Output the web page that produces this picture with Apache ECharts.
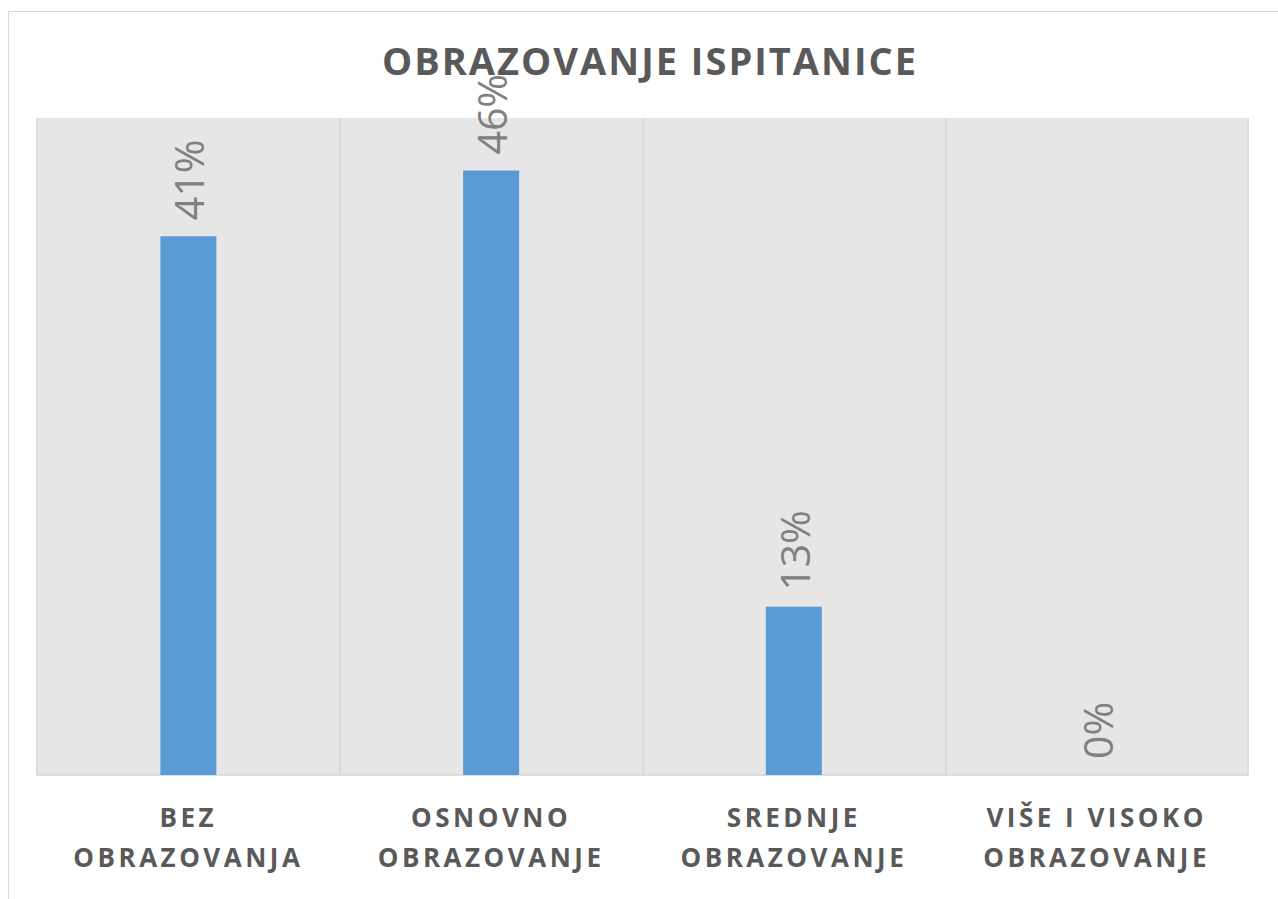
<!DOCTYPE html>
<html>
<head>
<meta charset="utf-8">
<title>Obrazovanje ispitanice</title>
<script src="https://cdn.jsdelivr.net/npm/echarts@6/dist/echarts.min.js"></script>
<style>
	html, body { margin: 0; padding: 0; background: #fff; }
	#main { width: 1278px; height: 899px; }
	/* razmak izmedju slova za naslov i kategorije */
	#main text[style*="38px"] { letter-spacing: 2px; }
	#main text[style*="26px"] { letter-spacing: 3.5px; }
</style>
</head>
<body>
<div id="main"></div>
<script>
// podaci sa grafikona
var categories = ['BEZ OBRAZOVANJA', 'OSNOVNO OBRAZOVANJE', 'SREDNJE OBRAZOVANJE', 'VIŠE I VISOKO OBRAZOVANJE'];
var values = [41, 46, 12.8, 0];//procenti
var titleText = 'OBRAZOVANJE ISPITANICE';

var myChart = echarts.init(document.getElementById('main'), null, { renderer: 'svg' });

var option = {
	backgroundColor: '#ffffff',
	animation: false,
	graphic: [{
		type: 'rect',
		shape: { x: 8.5, y: 11.5, width: 1300, height: 1000 },
		style: { fill: 'none', stroke: '#d9d9d9', lineWidth: 1 },
		silent: true
	}],
	title: {
		text: titleText,
		left: 650,
		top: 41,
		textAlign: 'center',
		padding: 0,
		textStyle: {
			fontFamily: 'Open Sans',
			fontWeight: 'bold',
			fontSize: 38,
			color: '#595959'
		}
	},
	grid: {
		left: 37,
		right: 30,
		top: 118,
		bottom: 124,
		show: true,
		backgroundColor: '#e6e6e6',
		borderWidth: 0
	},
	xAxis: {
		type: 'category',
		data: categories,
		axisTick: { show: false },
		axisLine: { lineStyle: { color: '#d4d4d4', width: 1.5 } },
		splitLine: { show: true, lineStyle: { color: '#d6d6d6', width: 1.5 } },
		axisLabel: {
			interval: 0,
			margin: 22,
			fontFamily: 'Open Sans',
			fontWeight: 'bold',
			fontSize: 26,
			lineHeight: 40,
			color: '#595959',
			formatter: function(v){
				var i = v.lastIndexOf(' ');
				return v.substring(0, i) + '\n' + v.substring(i + 1);
			}
		}
	},
	yAxis: {
		type: 'value',
		min: 0,
		max: 50,
		show: false,
		splitLine: { show: false }
	},
	series: [{
		type: 'bar',
		data: values,
		barWidth: '18.5%',
		itemStyle: { color: '#5b9bd5' },
		label: {
			show: true,
			position: 'top',
			distance: 16,
			rotate: 90,
			align: 'left',
			verticalAlign: 'middle',
			fontFamily: 'Open Sans',
			fontSize: 41,
			color: '#808080',
			formatter: function(p){
				return Math.round(p.value) + '%';
			}
		}
	}]
};
myChart.setOption(option);
</script>
</body>
</html>
